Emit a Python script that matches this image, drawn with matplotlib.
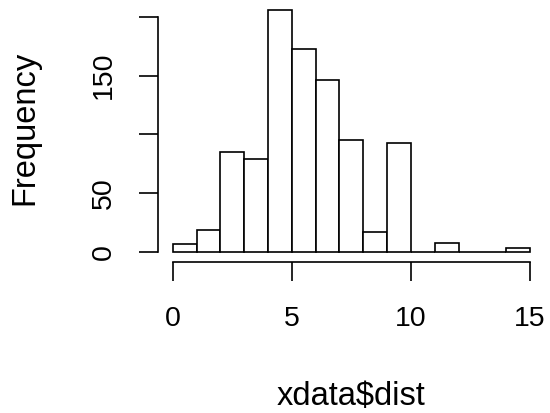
import matplotlib
matplotlib.use('Agg')
import matplotlib.pyplot as plt
import numpy as np

# histogram of xdata$dist, counts
bin_edges = [0, 1, 2, 3, 4, 5, 6, 7, 8, 9, 10, 11, 12, 13, 14, 15]
counts = [7, 19, 85, 79, 206, 173, 146, 95, 17, 93, 0, 8, 0, 0, 3]
xticks = [0, 5, 10, 15]
yticks = [0, 50, 100, 150, 200]
ytick_labels = ['0', '50', '', '150', '']

plt.rcParams['font.family'] = ['Liberation Sans', 'DejaVu Sans']

fig = plt.figure(figsize=(5.5, 4.13), dpi=100)
ax = fig.add_axes([0.288, 0.3664, 0.7018, 0.633])

lefts = np.array(bin_edges[:-1])
widths = np.diff(bin_edges)
ax.bar(lefts, counts, width=widths, align='edge', facecolor='white',
       edgecolor='black', linewidth=1.2)

ax.set_xlim(-0.6, 15.6)
ax.set_ylim(-8.24, 214.24)

for s in ['top', 'right']:
    ax.spines[s].set_visible(False)
ax.spines['left'].set_bounds(0, 200)
ax.spines['bottom'].set_bounds(0, 15)
ax.spines['left'].set_linewidth(1.2)
ax.spines['bottom'].set_linewidth(1.2)

ax.set_xticks(xticks)
ax.set_yticks(yticks)
ax.set_yticklabels(ytick_labels, rotation=90, va='center')
ax.tick_params(axis='both', length=13.7, width=1.2, labelsize=20.5)
ax.tick_params(axis='x', pad=18)
ax.tick_params(axis='y', pad=16)

fig.text(351.4 / 550, 1 - 397 / 413, 'xdata$dist', ha='center', va='center', fontsize=23.5)
fig.text(25 / 550, 1 - 128 / 413, 'Frequency', ha='center', va='center',
         rotation=90, fontsize=23.5)

fig.savefig('out.png', dpi=100)
